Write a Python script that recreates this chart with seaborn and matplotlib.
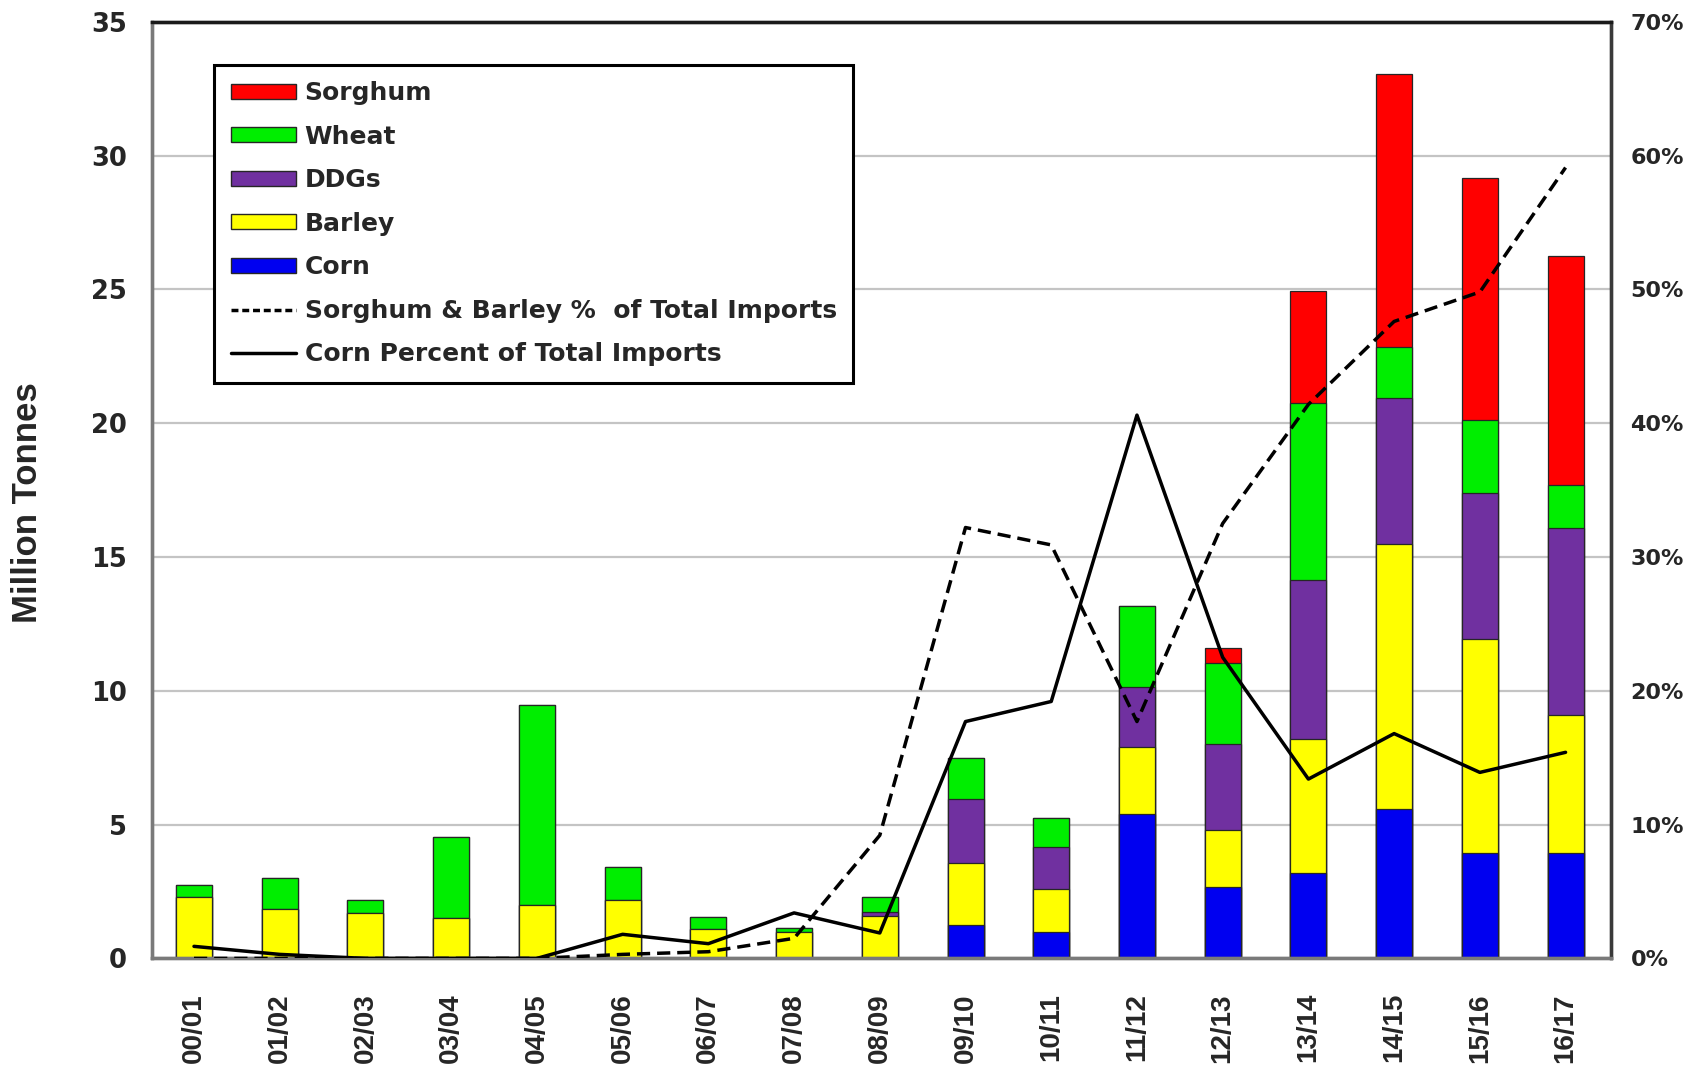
import numpy as np
import matplotlib
matplotlib.use("Agg")
import matplotlib.pyplot as plt
import seaborn as sns
from matplotlib import font_manager as fm
from matplotlib.patches import Patch
from matplotlib.lines import Line2D
from matplotlib.ticker import FuncFormatter

# ---------------- data ----------------
seasons = ["00/01", "01/02", "02/03", "03/04", "04/05", "05/06", "06/07", "07/08", "08/09",
           "09/10", "10/11", "11/12", "12/13", "13/14", "14/15", "15/16", "16/17"]
corn    = [0, 0, 0, 0, 0, 0, 0, 0, 0, 1.25, 1.0, 5.4, 2.65, 3.2, 5.6, 3.95, 3.95]
barley  = [2.3, 1.85, 1.7, 1.5, 2.0, 2.2, 1.1, 1.0, 1.6, 2.3, 1.6, 2.5, 2.15, 5.0, 9.9, 8.0, 5.15]
ddgs    = [0, 0, 0, 0, 0, 0, 0, 0, 0.15, 2.4, 1.55, 2.25, 3.2, 5.95, 5.45, 5.45, 7.0]
wheat   = [0.45, 1.15, 0.5, 3.05, 7.45, 1.2, 0.45, 0.15, 0.55, 1.55, 1.1, 3.0, 3.05, 6.6, 1.9, 2.7, 1.6]
sorghum = [0, 0, 0, 0, 0, 0, 0, 0, 0, 0, 0, 0, 0.55, 4.2, 10.2, 9.05, 8.55]
sorghum_barley_pct = [0, 0, 0, 0, 0, 0.3, 0.5, 1.5, 9.2, 32.2, 30.9, 17.7, 32.5, 41.4, 47.6, 49.8, 59.1]
corn_pct = [0.9, 0.3, 0, 0, 0, 1.8, 1.1, 3.4, 1.9, 17.7, 19.2, 40.6, 22.5, 13.4, 16.8, 13.9, 15.4]

left_ticks = [0, 5, 10, 15, 20, 25, 30, 35]
right_ticks = [0, 10, 20, 30, 40, 50, 60, 70]

# ---------------- style ----------------
sns.set_style("white")
avail = {f.name for f in fm.fontManager.ttflist}
hfont = "DejaVu Sans"
vfont = "Liberation Sans" if "Liberation Sans" in avail else "DejaVu Sans"
plt.rcParams["font.family"] = [hfont]
plt.rcParams["font.weight"] = "bold"

colors = {"Sorghum": "#FF0000", "Wheat": "#00EE00", "DDGs": "#7030A0",
          "Barley": "#FFFF00", "Corn": "#0000F0"}

fig = plt.figure(figsize=(17, 10.71), dpi=100)
ax = fig.add_axes([152 / 1700, 1 - 958.4 / 1071, (1611 - 152) / 1700, (958.4 - 21.7) / 1071])

layers = [("Corn", corn), ("Barley", barley), ("DDGs", ddgs), ("Wheat", wheat), ("Sorghum", sorghum)]
cum = np.cumsum([np.array(v, dtype=float) for _, v in layers], axis=0)
# draw from the tallest cumulative stack down so each segment shows
for i in range(len(layers) - 1, -1, -1):
    name = layers[i][0]
    sns.barplot(x=seasons, y=cum[i], color=colors[name], saturation=1, errorbar=None,
                width=0.42, edgecolor="#262626", linewidth=0.9, ax=ax, zorder=2)

ax.set_ylim(0, 35)
ax.set_yticks(left_ticks)
ax.grid(axis="y", color="#C4C4C4", linewidth=1.6)
ax.grid(axis="x", visible=False)
ax.set_axisbelow(True)

ax.set_ylabel("Million Tonnes", fontsize=25, fontweight="bold", family=vfont)
ax.yaxis.set_label_coords(-0.074, 0.487)
ax.set_xlabel("")
ax.tick_params(axis="y", length=0, pad=18, labelsize=18.5)
ax.tick_params(axis="x", length=0, pad=25)
for lab in ax.get_xticklabels():
    lab.set_rotation(90)
    lab.set_fontsize(20)
    lab.set_family(vfont)
    lab.set_fontweight("bold")
for lab in ax.get_yticklabels():
    lab.set_fontweight("bold")

# ---------------- percentage lines ----------------
ax2 = ax.twinx()
xpos = np.arange(len(seasons))
sns.lineplot(x=xpos, y=sorghum_barley_pct, ax=ax2, color="black", linewidth=2.5, zorder=5)
sns.lineplot(x=xpos, y=corn_pct, ax=ax2, color="black", linewidth=2.5, zorder=5)
ax2.lines[0].set_linestyle((0, (3.8, 2.0)))
ax2.set_ylim(0, 70)
ax2.set_yticks(right_ticks)
ax2.yaxis.set_major_formatter(FuncFormatter(lambda v, p: f"{v:.0f}%"))
ax2.tick_params(axis="y", length=0, pad=14, labelsize=16)
for lab in ax2.get_yticklabels():
    lab.set_fontweight("bold")
ax2.set_ylabel("")
ax2.grid(False)

ax.set_xlim(-0.49, 16.53)

for a in (ax, ax2):
    a.spines["left"].set_color("#7a7a7a")
    a.spines["bottom"].set_color("#7a7a7a")
    a.spines["top"].set_color("#1a1a1a")
    a.spines["right"].set_color("#3a3a3a")
    for s in a.spines.values():
        s.set_linewidth(2.4)
        s.set_visible(True)

# ---------------- legend ----------------
handles = [Patch(facecolor=colors[n], edgecolor="#262626", linewidth=1.0, label=n)
           for n in ["Sorghum", "Wheat", "DDGs", "Barley", "Corn"]]
handles.append(Line2D([0], [0], color="black", lw=2.5, linestyle=(0, (2.0, 1.1)),
                      label="Sorghum & Barley %  of Total Imports"))
handles.append(Line2D([0], [0], color="black", lw=2.5, label="Corn Percent of Total Imports"))
leg = ax2.legend(handles=handles, loc="upper left", bbox_to_anchor=(0.0425, 0.954),
                 borderaxespad=0, frameon=True, fancybox=False, shadow=False,
                 prop={"family": hfont, "weight": "bold", "size": 18.0},
                 handlelength=2.6, handleheight=0.55, handletextpad=0.36,
                 labelspacing=0.78, borderpad=0.66)
leg.get_frame().set_edgecolor("black")
leg.get_frame().set_linewidth(2.2)
leg.get_frame().set_facecolor("white")
leg.get_frame().set_alpha(1)

fig.savefig("out.png", dpi=100, facecolor="white")
